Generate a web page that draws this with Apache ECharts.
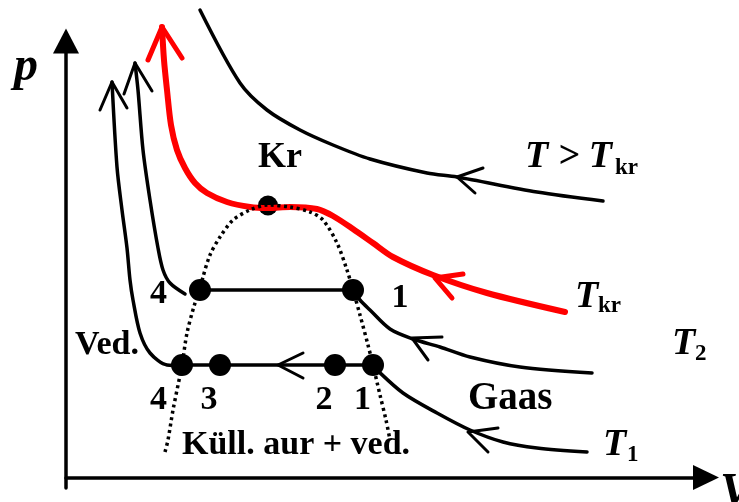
<!DOCTYPE html>
<html>
<head>
<meta charset="utf-8">
<script src="https://cdn.jsdelivr.net/npm/echarts@6/dist/echarts.min.js"></script>
<style>
html,body{margin:0;padding:0;background:#fff}
#c{width:739px;height:502px}
</style>
</head>
<body>
<div id="c"></div>
<script>
// p–V diagram of a real gas: isotherms, saturation dome and critical point.
// V and p are in arbitrary units.

// Isotherm above the critical temperature
const isoHot = [[13.4,46.75],[17.4,39.45],[20.1,36.75],[23.4,34.75],[26.7,33.25],[30.4,31.85],[36.1,30.45],[39.1,30.05],[47.1,28.55],[53.7,27.65]];
// Critical isotherm
const isoCrit = [[9.6,45.05],[9.8,41.75],[10.1,38.75],[10.5,35.25],[11.1,32.75],[11.9,30.95],[12.9,29.45],[14.1,28.45],[16.1,27.55],[18.4,27.05],[20.2,26.95],[22.4,27.05],[25.1,26.85],[26.7,26.15],[28.7,24.85],[30.7,23.45],[32.7,22.05],[36.7,20.25],[42.1,18.45],[49.9,16.55]];
// Isotherm T2: liquid branch, condensation plateau, gas branch
const isoT2Liquid = [[6.9,41.45],[7.2,38.75],[7.7,32.75],[8.4,27.75],[9.2,22.95],[9.7,20.75],[10.4,19.45],[11.9,18.35]];
const plateauT2 = [[13.4,18.75],[28.7,18.75]];
const isoT2Gas = [[28.7,18.75],[29.4,17.75],[30.4,16.75],[32.4,14.85],[34.7,13.85],[37.4,13.05],[40.4,12.05],[45.4,11.05],[52.6,10.45]];
// Isotherm T1: liquid branch, condensation plateau, gas branch
const isoT1Liquid = [[4.6,39.55],[5.1,31.05],[5.6,26.75],[6.1,22.95],[6.4,19.75],[6.7,17.75],[7.4,14.45],[8.4,12.45],[10.1,11.25],[11.6,11.2]];
const plateauT1 = [[11.6,11.25],[30.7,11.25]];
const isoT1Gas = [[30.7,11.25],[31.1,10.75],[33.7,8.45],[37.1,6.45],[40.4,4.75],[43.7,3.55],[47.1,2.95],[52.1,2.55]];
// Saturation dome (boundary of the two-phase region)
const dome = [[9.9,2.55],[10.2,3.75],[10.7,6.75],[11.6,11.25],[12.1,14.45],[12.9,17.45],[13.4,18.75],[13.7,20.05],[14.4,22.25],[15.4,24.05],[16.7,25.75],[18.4,26.75],[20.2,27.25],[22.4,27.05],[24.4,26.55],[25.7,25.75],[27.1,23.45],[28.1,20.75],[28.7,18.75],[29.4,16.25],[30.2,13.25],[30.7,11.25],[31.4,8.25],[32.0,5.75],[32.4,3.75]];
// Marked states
const statesT1 = [[11.6,11.25],[15.4,11.25],[26.9,11.25],[30.7,11.25]];
const statesT2 = [[13.4,18.75],[28.7,18.75]];
const criticalPoint = [[20.2,27.2]];
// Direction arrowheads: [arm, tip, arm]
const arrowsBlack = [
  [[41.7,30.95],[39.1,30.05],[40.9,28.45]],
  [[5.8,38.35],[6.9,41.45],[8.6,38.65]],
  [[37.6,14.05],[34.6,13.95],[36.2,11.75]],
  [[3.4,36.75],[4.6,39.55],[6.1,36.95]],
  [[23.7,12.45],[21.2,11.25],[23.7,9.95]],
  [[43.2,4.95],[40.2,4.55],[42.2,2.55]]
];
const arrowsRed = [
  [[8.2,41.75],[9.6,45.05],[11.6,41.95]],
  [[39.7,20.35],[36.9,19.95],[38.6,17.95]]
];
// Text anchors
const stateNumbers = [[33.4,17.9,'1'],[9.25,18.3,'4'],[9.25,7.7,'4'],[14.3,7.7,'3'],[25.8,7.7,'2'],[29.65,7.7,'1']];
const criticalLabel = [[21.4,31.95,'Kr']];
const regionLabels = [[0.9,13.2,'Ved.'],[11.6,3.2,'Küll. aur + ved.']];
const gasLabel = [[40.2,7.88,'Gaas']];
const tempSymbols = [[45.9,32.05,'T > T'],[50.9,18.05,'T'],[60.6,13.35,'T'],[53.7,3.25,'T']];
const tempSubscripts = [[54.9,30.9,'kr'],[53.2,17.1,'kr'],[62.9,12.3,'2'],[56.1,2.2,'1']];
const axisSymbols = [[-5.2,40.95,'p'],[65.4,-1.65,'V']];

const FONT = "'Liberation Serif','Times New Roman',serif";

function curve(data, color, width, z) {
  return { type:'line', data, smooth:0.3, symbol:'none', clip:false, silent:true, z: z || 3,
    lineStyle:{ color, width, cap:'round', join:'round' } };
}
function straight(data, color, width, z) {
  return { type:'line', data, smooth:false, symbol:'none', clip:false, silent:true, z: z || 3,
    lineStyle:{ color, width, cap:'round', join:'round' } };
}
function dots(data, size, z) {
  return { type:'scatter', data, symbol:'circle', symbolSize:size, clip:false, silent:true, z: z || 5,
    itemStyle:{ color:'#000', opacity:1 } };
}
function texts(items, font, align) {
  return { type:'scatter', symbolSize:1, clip:false, silent:true, z:10,
    itemStyle:{ color:'rgba(0,0,0,0)', opacity:1 },
    data: items.map(d => ({ value:[d[0], d[1]], label:{ formatter:d[2] } })),
    label: Object.assign({ show:true, position:'inside', align, verticalAlign:'middle',
      color:'#000', opacity:1, fontFamily:FONT }, font) };
}

const series = [
  curve(isoHot, '#000', 3.5),
  curve(isoT2Liquid, '#000', 3.5),
  straight(plateauT2, '#000', 3.5),
  curve(isoT2Gas, '#000', 3.5),
  curve(isoT1Liquid, '#000', 3.5),
  straight(plateauT1, '#000', 3.5),
  curve(isoT1Gas, '#000', 3.5),
  dots(criticalPoint, 20, 4),
  curve(isoCrit, '#ff0000', 6, 5),
  { type:'line', data:dome, smooth:0.3, symbol:'none', clip:false, silent:true, z:6,
    lineStyle:{ color:'#000', width:3.5, type:[3,3.5], cap:'butt' } },
  dots(statesT1, 22, 7),
  dots(statesT2, 22, 7),
  texts(stateNumbers, { fontSize:34, fontWeight:'bold' }, 'center'),
  texts(criticalLabel, { fontSize:36, fontWeight:'bold' }, 'center'),
  texts(regionLabels, { fontSize:34, fontWeight:'bold' }, 'left'),
  texts(gasLabel, { fontSize:39, fontWeight:'bold' }, 'left'),
  texts(tempSymbols, { fontSize:38, fontWeight:'bold', fontStyle:'italic' }, 'left'),
  texts(tempSubscripts, { fontSize:23, fontWeight:'bold' }, 'left'),
  texts(axisSymbols, { fontSize:48, fontWeight:'bold', fontStyle:'italic' }, 'left')
];
arrowsBlack.forEach(a => series.push(straight(a, '#000', 3)));
arrowsRed.forEach(a => series.push(straight(a, '#ff0000', 5, 5)));

const chart = echarts.init(document.getElementById('c'), null, { renderer:'canvas' });
chart.setOption({
  animation:false,
  backgroundColor:'#fff',
  grid:{ left:66, right:33, top:41, bottom:14 },
  xAxis:{ type:'value', min:0, max:64,
    axisLine:{ show:true, onZero:true, symbol:['none','triangle'], symbolSize:[25,26],
      lineStyle:{ color:'#000', width:3.5 } },
    axisTick:{ show:false }, axisLabel:{ show:false }, splitLine:{ show:false } },
  yAxis:{ type:'value', min:-1.05, max:43.65,
    axisLine:{ show:true, onZero:false, symbol:['none','triangle'], symbolSize:[26,25],
      lineStyle:{ color:'#000', width:3.5 } },
    axisTick:{ show:false }, axisLabel:{ show:false }, splitLine:{ show:false } },
  series
});
</script>
</body>
</html>
